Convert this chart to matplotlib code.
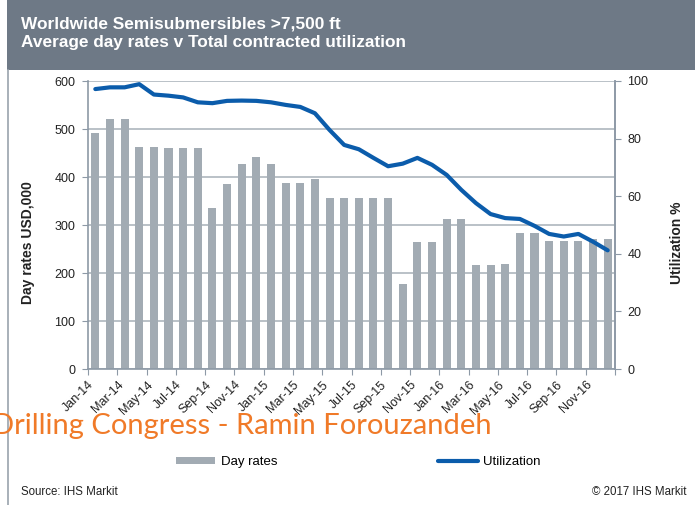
import matplotlib
matplotlib.use("Agg")
import matplotlib.pyplot as plt
from matplotlib.patches import Rectangle
from matplotlib.lines import Line2D

plt.rcParams['font.family'] = ['Liberation Sans', 'DejaVu Sans']

months = ["Jan-14", "Feb-14", "Mar-14", "Apr-14", "May-14", "Jun-14", "Jul-14", "Aug-14", "Sep-14",
          "Oct-14", "Nov-14", "Dec-14", "Jan-15", "Feb-15", "Mar-15", "Apr-15", "May-15", "Jun-15",
          "Jul-15", "Aug-15", "Sep-15", "Oct-15", "Nov-15", "Dec-15", "Jan-16", "Feb-16", "Mar-16",
          "Apr-16", "May-16", "Jun-16", "Jul-16", "Aug-16", "Sep-16", "Oct-16", "Nov-16", "Dec-16"]
day_rates = [492, 521, 521, 463, 463, 460, 460, 460, 335, 385, 427, 442,
             427, 388, 388, 395, 357, 357, 357, 357, 357, 177, 264, 264,
             313, 313, 217, 217, 219, 284, 284, 266, 266, 266, 271, 271]
utilization = [97.2, 97.8, 97.8, 98.9, 95.3, 94.9, 94.3, 92.6, 92.3, 93.1, 93.2, 93.1,
               92.6, 91.7, 91.0, 88.8, 83.0, 77.8, 76.3, 73.3, 70.4, 71.3, 73.3, 70.9,
               67.4, 62.2, 57.6, 53.8, 52.4, 52.1, 49.7, 46.9, 46.0, 46.9, 44.2, 41.2]
tick_labels = months[::2]

bar_color = "#a2abb3"
line_color = "#0b5cab"
spine_color = "#8d99a6"
grid_color = "#aeb6be"
text_color = "#222222"

fig = plt.figure(figsize=(6.95, 5.05), dpi=100)

# Title bar
fig.patches.append(Rectangle((7/695, 1 - 70/505), 1, 70/505, transform=fig.transFigure,
                             facecolor="#6e7986", edgecolor="none", zorder=0))
fig.add_artist(Line2D([8/695, 8/695], [0, 1 - 70/505], transform=fig.transFigure,
                      color="#9aa3ad", lw=1.2))
fig.text(21/695, 1 - 24/505, "Worldwide Semisubmersibles >7,500 ft", color="white",
         fontsize=12.4, fontweight="bold", va="center", ha="left")
fig.text(21/695, 1 - 43/505, "Average day rates v Total contracted utilization", color="white",
         fontsize=12.4, fontweight="bold", va="center", ha="left")

ax = fig.add_axes([88/695, 136/505, 527/695, 288/505])
x = list(range(len(months)))
ax.bar(x, day_rates, width=0.55, color=bar_color, zorder=2, label="Day rates")
ax.set_xlim(-0.5, len(months) - 0.5)
ax.set_ylim(0, 600)
ax.set_yticks(range(0, 601, 100))
ax.yaxis.grid(True, color=grid_color, lw=1.2, zorder=1)
ax.set_axisbelow(True)
ax.set_xticks([i - 0.5 for i in range(0, len(months), 2)] + [len(months) - 0.5])
ax.set_xticklabels(tick_labels + [""], rotation=45, ha="right", rotation_mode="anchor",
                   fontsize=9, color=text_color)
ax.tick_params(axis="x", length=4, color=spine_color, pad=3)
ax.tick_params(axis="y", length=4, color=spine_color, labelsize=9, labelcolor=text_color, pad=5)
ax.spines["top"].set_visible(False)
for s in ["left", "bottom", "right"]:
    ax.spines[s].set_color(spine_color)
    ax.spines[s].set_linewidth(1.2)

ax2 = ax.twinx()
ax2.plot(x, utilization, color=line_color, lw=3, solid_capstyle="round", zorder=3, label="Utilization")
ax2.set_ylim(0, 100)
ax2.set_yticks(range(0, 101, 20))
ax2.tick_params(axis="y", length=4, color=spine_color, labelsize=9, labelcolor=text_color, pad=5)
for s in ["top", "left", "bottom"]:
    ax2.spines[s].set_visible(False)
ax2.spines["right"].set_color(spine_color)
ax2.spines["right"].set_linewidth(1.2)

fig.text(28/695, 1 - 243/505, "Day rates USD,000", fontsize=10, fontweight="bold",
         color=text_color, rotation=90, ha="center", va="center")
fig.text(677/695, 1 - 243/505, "Utilization %", fontsize=10, fontweight="bold",
         color=text_color, rotation=90, ha="center", va="center")

# Legend
h1 = Rectangle((0, 0), 1, 1, facecolor=bar_color, edgecolor="none")
h2 = Line2D([0], [0], color=line_color, lw=3, solid_capstyle="round")
fig.legend([h1, h2], ["Day rates", "Utilization"], loc="center left",
           bbox_to_anchor=(164/695, 1 - 462/505), ncol=2, frameon=False, fontsize=9.5,
           handlelength=3, handleheight=0.45, handletextpad=0.4, columnspacing=12.2)

# Watermark
fig.text(-8/695, 1 - 426/505, "Drilling Congress - Ramin Forouzandeh", color="#f07a28",
         fontsize=21, family=["Lato", "DejaVu Sans"], va="center", ha="left")

fig.text(21/695, 1 - 492/505, "Source: IHS Markit", fontsize=8.3, color=text_color, va="center")
fig.text(686/695, 1 - 492/505, "\u00a9 2017 IHS Markit", fontsize=8.3, color=text_color,
         va="center", ha="right")

fig.savefig("out.png", dpi=100)
